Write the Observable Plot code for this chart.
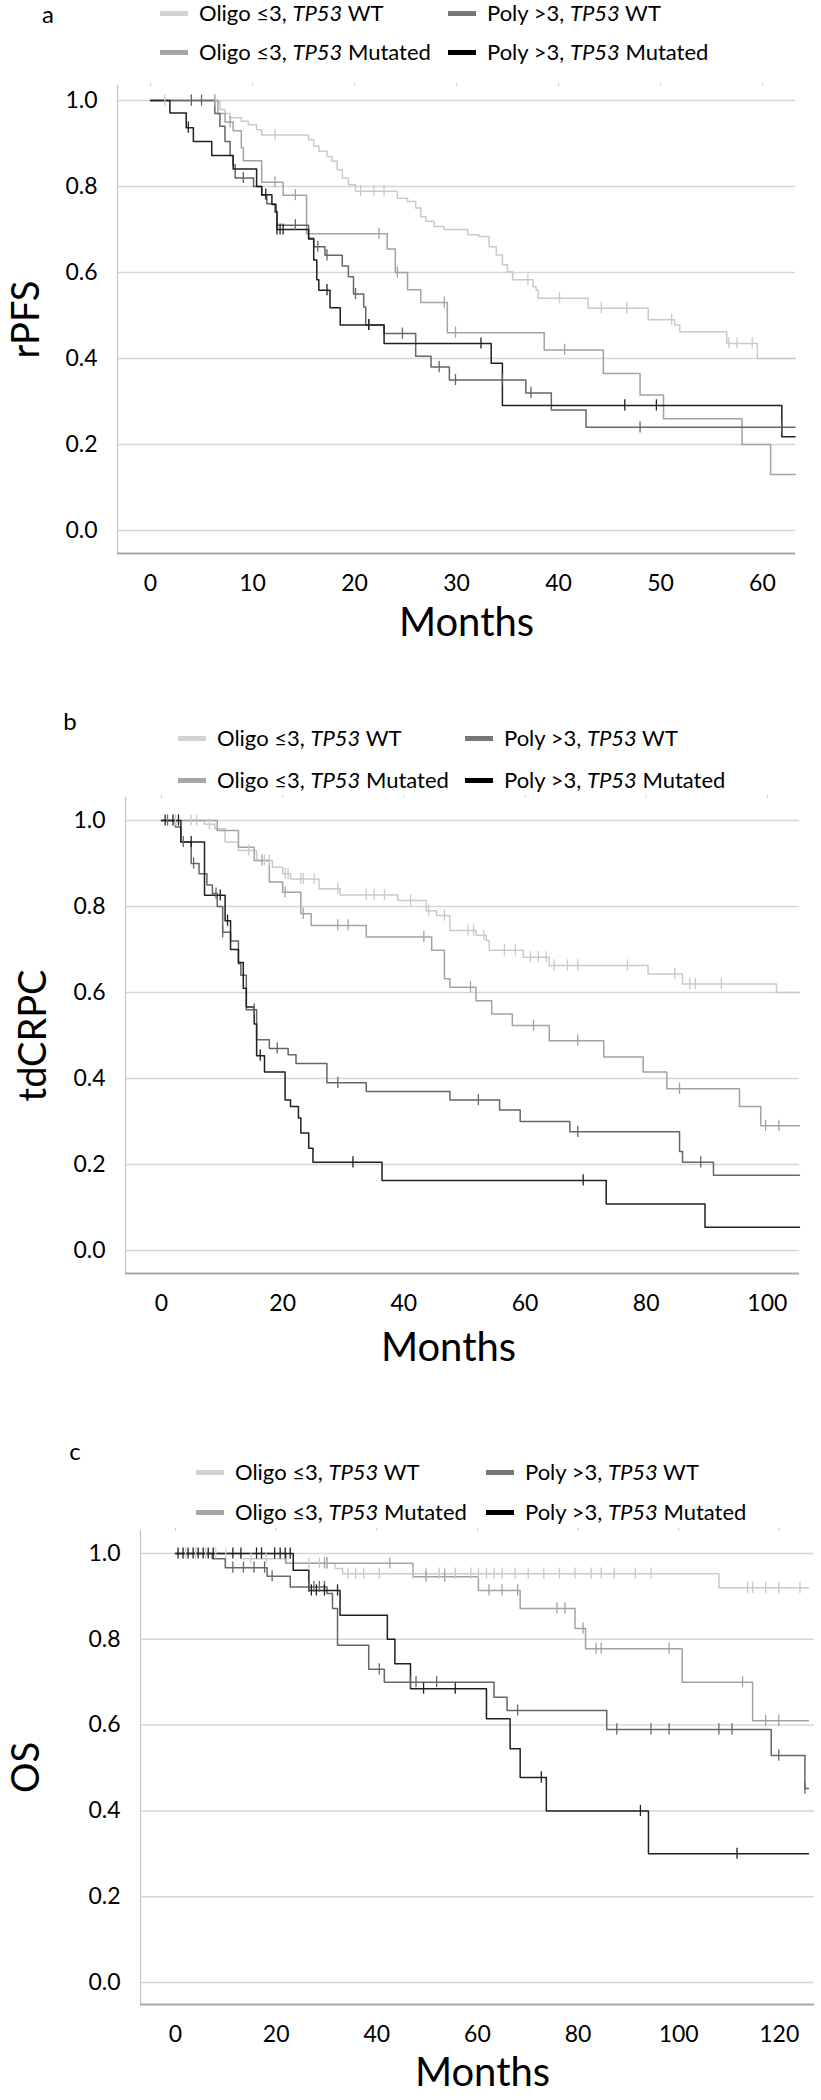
<!DOCTYPE html>
<html><head><meta charset="utf-8">
<script src="https://cdn.jsdelivr.net/npm/d3@7"></script>
<script src="https://cdn.jsdelivr.net/npm/@observablehq/plot@0.6"></script>
<style>
body{margin:0;background:#fff;font-family:Lato,"Open Sans",sans-serif;color:#000;}
#root{position:relative;width:821px;height:2100px;overflow:hidden;}
.plot{position:absolute;left:0;}
.letter{position:absolute;font-size:24px;line-height:1.2;transform:translateX(-50%);}
.item{position:absolute;white-space:nowrap;display:flex;align-items:center;font-size:22px;line-height:1;transform:translateY(-50%);z-index:2;}
.sw{display:inline-block;width:28px;height:5px;margin-right:11px;}
</style></head><body><div id="root"></div>
<script>
// ---------- legend / series ----------
const groupNames = ["Oligo ≤3, <i>TP53</i> WT", "Oligo ≤3, <i>TP53</i> Mutated", "Poly >3, <i>TP53</i> WT", "Poly >3, <i>TP53</i> Mutated"];
const lineColors = ["#cacaca", "#a3a3a3", "#666666", "#202020"];
const swatchColors = ["#d2d2d2", "#a6a6a6", "#777777", "#000000"];
const yTicks = [0, 0.2, 0.4, 0.6, 0.8, 1.0];

// ---------- panel a: rPFS ----------
const rpfsXTicks = [0, 10, 20, 30, 40, 50, 60];
const rpfsOligoWT_t = [6.8, 7.3, 7.8, 8.9, 9.6, 10.4, 10.9, 15.5, 16.0, 16.5, 17.3, 17.8, 18.3, 18.8, 19.4, 20.1, 24.2, 25.2, 26.0, 26.5, 27.0, 27.8, 28.8, 31.1, 32.2, 33.2, 33.9, 34.5, 35.0, 35.5, 37.5, 37.8, 38.0, 42.9, 48.8, 51.4, 51.9, 56.5, 59.5];
const rpfsOligoWT_s = [0.979, 0.97, 0.96, 0.952, 0.944, 0.932, 0.92, 0.909, 0.894, 0.882, 0.87, 0.859, 0.839, 0.82, 0.804, 0.789, 0.773, 0.765, 0.75, 0.73, 0.719, 0.707, 0.70, 0.688, 0.684, 0.66, 0.641, 0.618, 0.602, 0.583, 0.567, 0.559, 0.54, 0.517, 0.49, 0.478, 0.462, 0.435, 0.40];
const rpfsOligoWT_c = [1.4, 4.0, 6.3, 12.2, 20.6, 21.9, 22.9, 37.0, 40.1, 44.2, 46.7, 51.1, 56.7, 57.5, 59.0];
const rpfsOligoMut_t = [6.6, 7.3, 8.1, 8.9, 9.1, 10.9, 13.0, 15.3, 23.2, 24.0, 25.2, 26.5, 29.1, 38.6, 44.4, 48.0, 50.3, 58.0, 60.8];
const rpfsOligoMut_s = [0.97, 0.95, 0.93, 0.89, 0.86, 0.81, 0.78, 0.69, 0.655, 0.60, 0.56, 0.53, 0.46, 0.42, 0.365, 0.315, 0.26, 0.20, 0.13];
const rpfsOligoMut_c = [6.3, 7.8, 12.2, 14.2, 22.4, 24.2, 28.8, 29.9, 40.6];
const rpfsPolyWT_t = [6.3, 6.8, 7.3, 7.8, 8.1, 8.3, 10.1, 10.9, 11.4, 12.2, 12.4, 15.5, 16.0, 17.1, 18.8, 19.4, 19.9, 20.9, 21.1, 22.9, 26.0, 27.5, 29.3, 36.8, 39.3, 42.7];
const rpfsPolyWT_s = [0.97, 0.94, 0.905, 0.872, 0.85, 0.82, 0.80, 0.78, 0.76, 0.74, 0.71, 0.68, 0.66, 0.64, 0.615, 0.59, 0.55, 0.52, 0.478, 0.458, 0.405, 0.38, 0.35, 0.32, 0.28, 0.24];
const rpfsPolyWT_c = [4.0, 5.0, 9.1, 14.2, 16.4, 17.3, 20.1, 21.4, 24.7, 28.3, 29.9, 34.5, 37.3, 48.0, 61.9];
const rpfsPolyMut_t = [1.9, 3.5, 4.2, 6.0, 8.1, 10.4, 10.9, 11.9, 12.3, 12.4, 15.5, 16.0, 16.3, 16.5, 17.6, 18.6, 22.9, 33.4, 34.5, 61.9];
const rpfsPolyMut_s = [0.971, 0.937, 0.905, 0.872, 0.841, 0.80, 0.781, 0.758, 0.742, 0.70, 0.678, 0.629, 0.583, 0.559, 0.518, 0.478, 0.435, 0.389, 0.291, 0.218];
const rpfsPolyMut_c = [3.7, 11.3, 12.4, 12.7, 13.0, 17.3, 21.4, 32.4, 46.5, 49.6];
const rpfsEnd = [63.2, 63.2, 63.2, 63.2];

// ---------- panel b: tdCRPC ----------
const tdXTicks = [0, 20, 40, 60, 80, 100];
const tdOligoWT_t = [7.1, 8.8, 10.5, 12.7, 15.7, 18.3, 20.0, 21.3, 26.0, 29.5, 39.0, 43.7, 45.4, 47.6, 51.9, 53.6, 54.1, 59.7, 64.0, 80.3, 86.0, 101.5];
const tdOligoWT_s = [0.991, 0.981, 0.95, 0.93, 0.907, 0.891, 0.876, 0.864, 0.841, 0.827, 0.814, 0.79, 0.779, 0.744, 0.733, 0.721, 0.698, 0.682, 0.663, 0.643, 0.62, 0.60];
const tdOligoWT_c = [2.3, 4.9, 5.8, 7.9, 14.4, 17.0, 17.8, 20.4, 20.9, 23.0, 23.4, 25.2, 29.1, 33.8, 35.1, 36.8, 41.1, 44.1, 46.7, 50.6, 51.5, 53.2, 56.6, 58.4, 60.9, 62.2, 63.5, 64.8, 67.0, 68.7, 76.9, 84.7, 87.2, 88.1, 92.4];
const tdOligoMut_t = [9.2, 12.7, 15.3, 17.8, 20.0, 23.0, 24.7, 33.8, 44.6, 46.7, 47.6, 51.9, 54.5, 57.9, 64.0, 73.0, 79.5, 83.4, 95.4, 98.9];
const tdOligoMut_s = [0.977, 0.938, 0.907, 0.857, 0.833, 0.783, 0.756, 0.729, 0.698, 0.632, 0.612, 0.581, 0.55, 0.523, 0.488, 0.45, 0.415, 0.376, 0.335, 0.29];
const tdOligoMut_c = [16.6, 20.4, 23.4, 29.1, 30.8, 43.3, 51.0, 61.4, 68.7, 85.5, 99.7, 101.9];
const tdPolyWT_t = [2.3, 3.2, 4.9, 6.2, 7.5, 8.4, 9.2, 10.1, 11.4, 12.7, 13.1, 14.0, 15.7, 17.8, 20.9, 22.2, 27.3, 33.8, 47.6, 55.8, 59.2, 67.4, 85.5, 86.0, 91.1];
const tdPolyWT_s = [0.985, 0.95, 0.90, 0.876, 0.85, 0.83, 0.80, 0.74, 0.72, 0.667, 0.64, 0.56, 0.49, 0.47, 0.455, 0.435, 0.39, 0.37, 0.35, 0.327, 0.30, 0.276, 0.23, 0.205, 0.175];
const tdPolyWT_c = [1.0, 3.6, 5.3, 9.0, 10.1, 15.3, 19.1, 29.1, 52.3, 68.7, 89.0];
const tdPolyMut_t = [3.2, 7.1, 10.5, 11.4, 12.7, 13.5, 14.0, 15.3, 15.7, 17.0, 20.4, 21.3, 22.6, 23.0, 24.3, 25.0, 36.4, 73.4, 89.7];
const tdPolyMut_s = [0.95, 0.826, 0.767, 0.70, 0.67, 0.61, 0.566, 0.527, 0.453, 0.415, 0.35, 0.335, 0.308, 0.273, 0.238, 0.205, 0.163, 0.108, 0.054];
const tdPolyMut_c = [0.6, 1.9, 2.8, 4.9, 9.7, 10.9, 16.3, 31.6, 69.6];
const tdEnd = [105.3, 105.3, 105.3, 105.3];

// ---------- panel c: OS ----------
const osXTicks = [0, 20, 40, 60, 80, 100, 120];
const osOligoWT_t = [13.0, 21.8, 31.7, 33.2, 108.0];
const osOligoWT_s = [0.988, 0.977, 0.965, 0.953, 0.92];
const osOligoWT_c = [2, 4, 6, 8, 10, 15, 18, 26.5, 28.6, 30.1, 34.3, 35.8, 37.4, 40.5, 47.2, 49.8, 52.4, 53.5, 55.6, 58.7, 60.2, 61.8, 63.3, 64.9, 67.5, 70.1, 73.2, 76.3, 79.4, 82.6, 84.6, 87.2, 91.4, 94.5, 113.7, 114.7, 117.3, 119.9, 124.1];
const osOligoMut_t = [22.0, 47.2, 60.2, 68.5, 79.4, 81.5, 100.7, 114.7];
const osOligoMut_s = [0.977, 0.946, 0.914, 0.872, 0.825, 0.778, 0.70, 0.61];
const osOligoMut_c = [29.6, 30.1, 42.6, 49.8, 53.5, 62.3, 64.9, 68.0, 75.8, 77.4, 81.0, 83.6, 84.6, 98.1, 112.7, 117.3, 119.9];
const osPolyWT_t = [7.3, 9.9, 18.2, 22.8, 30.1, 31.2, 32.2, 38.4, 41.5, 63.3, 65.9, 85.7, 118.4, 125.1];
const osPolyWT_s = [0.988, 0.967, 0.947, 0.922, 0.907, 0.872, 0.786, 0.73, 0.70, 0.665, 0.634, 0.59, 0.529, 0.452];
const osPolyWT_c = [11.4, 13.5, 15.6, 17.7, 19.2, 26.5, 27.5, 28.6, 29.6, 40.5, 46.7, 47.8, 51.9, 68.0, 87.7, 94.5, 98.1, 108.0, 110.6, 119.9, 125.1];
const osPolyMut_t = [23.4, 26.5, 32.7, 42.1, 43.6, 46.7, 61.8, 66.5, 68.5, 73.7, 94.0];
const osPolyMut_s = [0.961, 0.914, 0.856, 0.80, 0.743, 0.685, 0.615, 0.545, 0.478, 0.40, 0.30];
const osPolyMut_c = [0.5, 1.5, 2.5, 3.5, 4.5, 5.5, 6.5, 7.5, 11.4, 13.0, 16.1, 17.1, 19.7, 20.8, 21.8, 22.8, 27.0, 28.0, 29.6, 32.2, 49.3, 55.6, 72.7, 92.4, 111.6];
const osEnd = [125.8, 125.8, 125.8, 125.8];

// ---------- helpers ----------
function stepData(t, s, end) {
  const pts = [{t: 0, s: 1}];
  t.forEach((ti, i) => pts.push({t: ti, s: s[i]}));
  pts.push({t: end, s: s[s.length - 1]});
  return pts;
}
function survAt(t, s, x) {
  let v = 1;
  for (let i = 0; i < t.length; i++) if (t[i] <= x) v = s[i];
  return v;
}

const root = document.getElementById("root");

function addLegend(rowY, colX, letter, letterTop, letterX) {
  const L = document.createElement("div");
  L.className = "letter"; L.textContent = letter;
  L.style.left = letterX + "px"; L.style.top = letterTop + "px";
  root.appendChild(L);
  const order = [[0, 0, 0], [2, 1, 0], [1, 0, 1], [3, 1, 1]];
  for (const [g, c, r] of order) {
    const d = document.createElement("div");
    d.className = "item";
    d.style.left = colX[c] + "px"; d.style.top = rowY[r] + "px";
    d.innerHTML = `<span class="sw" style="background:${swatchColors[g]}"></span><span>${groupNames[g]}</span>`;
    root.appendChild(d);
  }
}

function addPanel(cfg) {
  const marks = [
    Plot.ruleY(yTicks, {stroke: "#d6d6d6", strokeWidth: 1.5}),
    Plot.ruleX([cfg.xDomain[0]], {stroke: "#c4c4c4", strokeWidth: 1.2}),
    Plot.ruleY([cfg.yDomain[0]], {stroke: "#a8a8a8", strokeWidth: 2}),
    Plot.axisY({ticks: yTicks, tickSize: 0, tickPadding: 20, tickFormat: d3.format(".1f"), label: null, fontSize: 23}),
    Plot.axisX({ticks: cfg.xTicks, tickSize: 0, tickPadding: 21, label: null, fontSize: 23}),
    Plot.axisX({anchor: "top", ticks: cfg.xTicks, tickSize: 3, tickFormat: () => "", label: null, stroke: "#cccccc"})
  ];
  cfg.series.forEach(([t, s, c], i) => {
    marks.push(Plot.line(stepData(t, s, cfg.end[i]), {x: "t", y: "s", curve: "step-after", stroke: lineColors[i], strokeWidth: 1.5}));
  });
  cfg.series.forEach(([t, s, c], i) => {
    const cd = c.map(x => ({t: x, s: survAt(t, s, x)}));
    marks.push(Plot.ruleX(cd, {x: "t", y1: d => d.s - 0.013, y2: d => d.s + 0.013, stroke: lineColors[i], strokeWidth: 1.3}));
  });
  marks.push(Plot.text(["Months"], {text: d => d, frameAnchor: "bottom", textAnchor: "middle", lineAnchor: "middle", dy: cfg.xlabelDy, dx: cfg.xlabelDx, fontSize: 40}));
  marks.push(Plot.text([cfg.ylabel], {text: d => d, frameAnchor: "left", textAnchor: "middle", lineAnchor: "middle", rotate: -90, dx: cfg.ylabelDx, fontSize: 38}));
  const svg = Plot.plot({
    width: 821, height: cfg.height,
    marginLeft: cfg.ml, marginRight: cfg.mr, marginTop: cfg.mt, marginBottom: cfg.mb,
    x: {domain: cfg.xDomain},
    y: {domain: cfg.yDomain},
    style: {fontFamily: "Lato, 'Open Sans', sans-serif", background: "transparent", color: "#000", overflow: "visible"},
    marks
  });
  svg.classList.add("plot");
  svg.style.position = "absolute";
  svg.style.top = cfg.top + "px";
  svg.style.left = "0px";
  root.appendChild(svg);
}

addPanel({
  top: 70, height: 583, mt: 15, mb: 100, ml: 117, mr: 26,
  xDomain: [-3.24, 63.24], yDomain: [-0.0535, 1.035], xTicks: rpfsXTicks, end: rpfsEnd,
  ylabel: "rPFS", ylabelDx: -91, xlabelDy: 70, xlabelDx: 10,
  series: [[rpfsOligoWT_t, rpfsOligoWT_s, rpfsOligoWT_c], [rpfsOligoMut_t, rpfsOligoMut_s, rpfsOligoMut_c], [rpfsPolyWT_t, rpfsPolyWT_s, rpfsPolyWT_c], [rpfsPolyMut_t, rpfsPolyMut_s, rpfsPolyMut_c]]
});
addPanel({
  top: 790, height: 583, mt: 7, mb: 100, ml: 125, mr: 22,
  xDomain: [-5.94, 105.3], yDomain: [-0.0535, 1.0535], xTicks: tdXTicks, end: tdEnd,
  ylabel: "tdCRPC", ylabelDx: -92, xlabelDy: 75, xlabelDx: -14,
  series: [[tdOligoWT_t, tdOligoWT_s, tdOligoWT_c], [tdOligoMut_t, tdOligoMut_s, tdOligoMut_c], [tdPolyWT_t, tdPolyWT_s, tdPolyWT_c], [tdPolyMut_t, tdPolyMut_s, tdPolyMut_c]]
});
addPanel({
  top: 1522, height: 578, mt: 8, mb: 96, ml: 140, mr: 7,
  xDomain: [-6.96, 127.0], yDomain: [-0.0513, 1.0536], xTicks: osXTicks, end: osEnd,
  ylabel: "OS", ylabelDx: -114, xlabelDy: 69, xlabelDx: 5,
  series: [[osOligoWT_t, osOligoWT_s, osOligoWT_c], [osOligoMut_t, osOligoMut_s, osOligoMut_c], [osPolyWT_t, osPolyWT_s, osPolyWT_c], [osPolyMut_t, osPolyMut_s, osPolyMut_c]]
});

addLegend([13, 52], [160, 448], "a", 0, 48);
addLegend([738, 780], [178, 465], "b", 707, 70);
addLegend([1472, 1512], [196, 486], "c", 1437, 75);
</script></body></html>
